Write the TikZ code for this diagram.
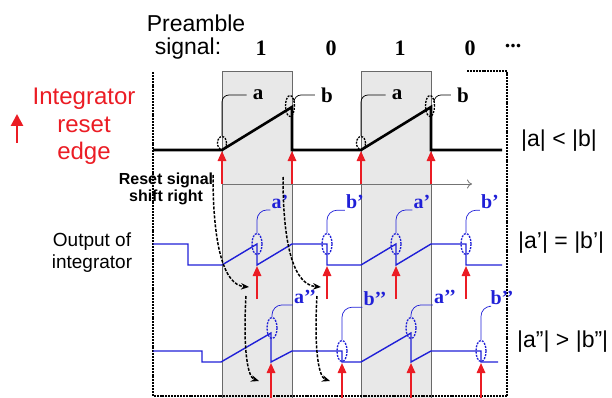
\documentclass[tikz,border=0pt]{standalone}
\usepackage{fontspec}
\setmainfont{Liberation Sans}
\newfontfamily\serifb{Liberation Serif}
\usetikzlibrary{arrows.meta,shapes.geometric,calc}
\definecolor{myred}{RGB}{235,28,36}
\definecolor{myblue}{RGB}{32,32,215}
\definecolor{boxgray}{RGB}{232,232,232}
\definecolor{boxline}{RGB}{105,105,105}
\begin{document}
\begin{tikzpicture}[x=1pt,y=-1pt,
  graybox/.style={draw=boxline,fill=boxgray,line width=1pt},
  framedots/.style={line width=2.8pt,dash pattern=on 2pt off 0.9pt},
  topsig/.style={line width=2.6pt,line join=miter},
  bsig/.style={myblue,line width=1.4pt},
  rarr/.style={myred,line width=1.6pt,-{Triangle[width=8.5pt,length=10pt]}},
  kell/.style={ellipse,draw=black,line width=1.3pt,dash pattern=on 2pt off 1.2pt,inner sep=0,minimum width=9pt},
  bell/.style={ellipse,draw=myblue,line width=1.3pt,dash pattern=on 2pt off 1.2pt,inner sep=0,minimum width=10pt,minimum height=21pt},
  klab/.style={font=\serifb\bfseries\fontsize{21}{21}\selectfont,inner xsep=6pt,inner ysep=1pt},
  blab/.style={font=\serifb\bfseries\fontsize{20}{20}\selectfont,text=myblue,inner sep=1pt},
  klead/.style={line width=0.7pt,rounded corners=7pt},
  blead/.style={myblue,line width=0.7pt,rounded corners=10pt},
  shiftarr/.style={black!55,line width=0.8pt,-{To[length=5pt,width=9pt]}},
  curvarr/.style={dash pattern=on 3pt off 1.5pt,line width=1.5pt,-{Stealth[length=8pt,width=6.5pt]}},
  sans/.style={font=\fontsize{#1}{#1}\selectfont,inner sep=0},
  digit/.style={font=\serifb\bfseries\fontsize{22}{22}\selectfont,inner sep=0,anchor=base}
]
\useasboundingbox (0,0) rectangle (612,398);

% gray boxes
\node[graybox,inner sep=0,minimum width=70pt,minimum height=327pt,anchor=north west] (box1) at (222,71) {};
\node[graybox,inner sep=0,minimum width=70pt,minimum height=327pt,anchor=north west] (box2) at (361,71) {};

% dotted frame
\draw[framedots] (467,71) -- (507,71) -- (507,396) -- (153,396) -- (153,72);

% headings
\node[sans=23,anchor=base] (pre) at (196,32) {Preamble};
\node[sans=23,anchor=base] (sig) at (188,55) {signal:};
\node[digit] (d1) at (261,56) {1};
\node[digit] (d2) at (331,56) {0};
\node[digit] (d3) at (400,56) {1};
\node[digit] (d4) at (470,56) {0};
\node[digit] (dots) at (513,48) {...};

% left texts
\node[sans=24,text=myred,align=center,anchor=north,font=\fontsize{24}{27.5}\selectfont] (intr) at (84,88) {Integrator\\reset\\edge};
\coordinate (ia1) at (17,143);
\coordinate (ia2) at (17,114);
\draw[myred,line width=2.6pt,-{Triangle[width=12pt,length=12pt]}] (ia1) -- (ia2);
\node[sans=19,align=center,anchor=north,font=\fontsize{19}{21.5}\selectfont] (outint) at (92,233) {Output of\\integrator};
\node[sans=16,align=center,anchor=north,font=\bfseries\fontsize{16}{17}\selectfont] (rss) at (166,173) {Reset signal\\shift right};

% right texts
\node[sans=23,anchor=west] (r1) at (521,141) {|a| < |b|};
\node[sans=23,anchor=west] (r2) at (518,243) {|a’| = |b’|};
\node[sans=23,anchor=west] (r3) at (517,342) {|a”| > |b”|};

% shift arrow
\coordinate (sa1) at (222,184);
\coordinate (sa2) at (472,184);
\draw[shiftarr] (sa1) -- (sa2);

% top signal
\draw[topsig] (153,150) -- (222,150) -- (292,107) -- (292,150) -- (361,150) -- (431,107) -- (431,150) -- (502,150);
\node[kell,minimum height=13pt] (ea1) at (222,143) {};
\node[kell,minimum height=21pt] (eb1) at (290,106) {};
\node[kell,minimum height=13pt] (ea2) at (361,143) {};
\node[kell,minimum height=21pt] (eb2) at (430,106) {};
\node[klab] (la1) at (258,95) {a};
\node[klab] (lb1) at (327,95) {b};
\node[klab] (la2) at (397,95) {a};
\node[klab] (lb2) at (463,95) {b};
\draw[klead] (ea1.north) |- (la1.west);
\draw[klead] (eb1.60) |- (lb1.west);
\draw[klead] (ea2.north) |- (la2.west);
\draw[klead] (eb2.60) |- (lb2.west);
\foreach \x [count=\i] in {222,292,361,431} {
  \coordinate (rt\i) at (\x,184);
  \coordinate (rh\i) at (\x,151);
  \draw[rarr] (rt\i) -- (rh\i);
}

% blue signal 1
\draw[bsig] (153,244) -- (188,244) -- (188,265) -- (222,265) -- (257,244) -- (257,265) -- (292,244) -- (327,244) -- (327,265) -- (361,265) -- (396,244) -- (396,265) -- (431,244) -- (466,244) -- (466,265) -- (502,265);
\node[bell] (pa1) at (257,244) {};
\node[bell] (pb1) at (327,244) {};
\node[bell] (pa2) at (396,244) {};
\node[bell] (pb2) at (466,244) {};
\node[blab] (lpa1) at (280,202) {a’};
\node[blab] (lpb1) at (355,202) {b’};
\node[blab] (lpa2) at (422,202) {a’};
\node[blab] (lpb2) at (490,202) {b’};
\draw[blead] (pa1.north) |- (lpa1.south west);
\draw[blead] (pb1.north) |- (lpb1.south west);
\draw[blead] (pa2.north) |- (lpa2.south west);
\draw[blead] (pb2.north) |- (lpb2.south west);
\foreach \x [count=\i] in {257,327,396,466} {
  \coordinate (st\i) at (\x,299);
  \coordinate (sh\i) at (\x,266);
  \draw[rarr] (st\i) -- (sh\i);
}

% blue signal 2
\draw[bsig] (153,351) -- (202,351) -- (202,362) -- (221,362) -- (271,333) -- (271,362) -- (292,351) -- (342,351) -- (342,362) -- (361,362) -- (411,333) -- (411,362) -- (431,351) -- (481,351) -- (481,362) -- (498,362);
\node[bell] (qa1) at (272,328) {};
\node[bell] (qb1) at (342,351) {};
\node[bell] (qa2) at (411,328) {};
\node[bell] (qb2) at (481,351) {};
\node[blab] (lqa1) at (305,297) {a’’};
\node[blab] (lqb1) at (375,299) {b’’};
\node[blab] (lqa2) at (445,297) {a’’};
\node[blab] (lqb2) at (502,298) {b’’};
\draw[blead] (qa1.north) |- (lqa1.south west);
\draw[blead] (qb1.north) |- (lqb1.south west);
\draw[blead] (qa2.north) |- (lqa2.south west);
\draw[blead] (qb2.north) |- (lqb2.south west);
\foreach \x [count=\i] in {271,342,411,481} {
  \coordinate (ut\i) at (\x,398);
  \coordinate (uh\i) at (\x,363);
  \draw[rarr] (ut\i) -- (uh\i);
}

% curved shift arrows
\coordinate (c1s) at (213,175); \coordinate (c1e) at (249,287);
\coordinate (c2s) at (246,296); \coordinate (c2e) at (259,381);
\coordinate (c3s) at (283,177); \coordinate (c3e) at (321,287);
\coordinate (c4s) at (317,296); \coordinate (c4e) at (330,381);
\draw[curvarr] (c1s) .. controls (213,250) and (225,285) .. (c1e);
\draw[curvarr] (c2s) .. controls (243,345) and (247,377) .. (c2e);
\draw[curvarr] (c3s) .. controls (283,250) and (295,285) .. (c3e);
\draw[curvarr] (c4s) .. controls (314,345) and (318,377) .. (c4e);
\end{tikzpicture}
\end{document}
